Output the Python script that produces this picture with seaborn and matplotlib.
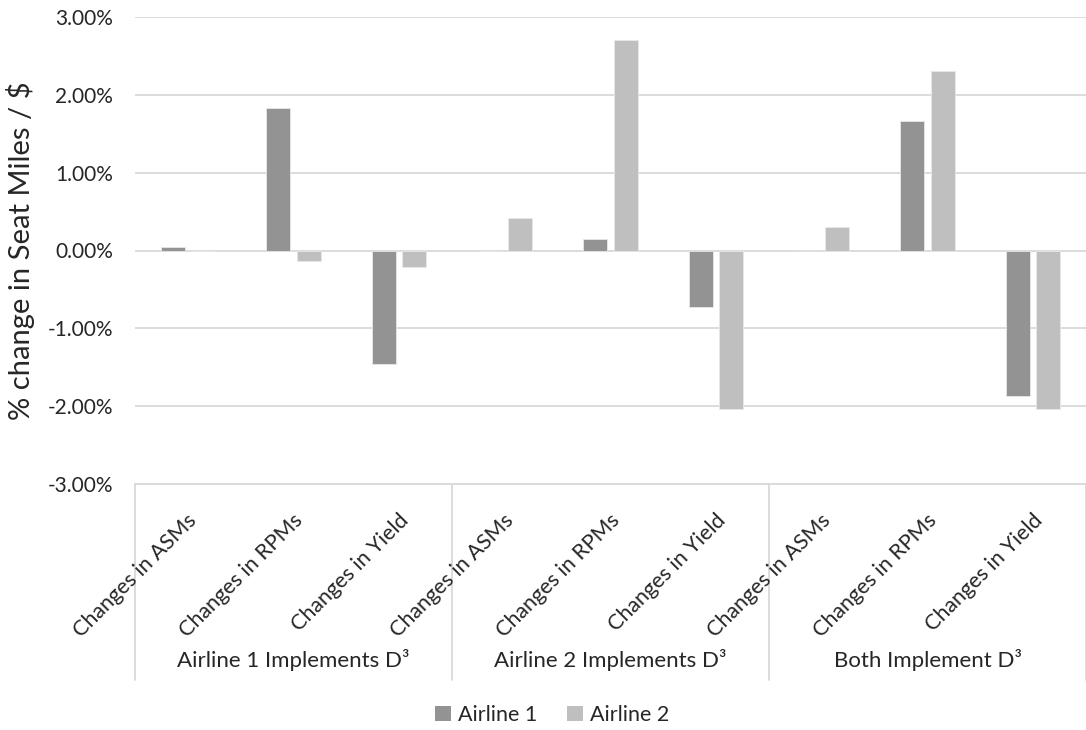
import numpy as np
import pandas as pd
import seaborn as sns
import matplotlib.pyplot as plt
from matplotlib.patches import Patch
from matplotlib.ticker import FuncFormatter, MultipleLocator
from matplotlib.transforms import blended_transform_factory

# Scenario groups and the metric within each group
groups = ["Airline 1 Implements D³", "Airline 2 Implements D³", "Both Implement D³"]
metrics = ["Changes in ASMs", "Changes in RPMs", "Changes in Yield"]

# Percentage change per scenario/metric (group-major order)
airline1 = [0.05, 1.83, -1.46, 0.00, 0.15, -0.72, 0.01, 1.67, -1.87]
airline2 = [0.00, -0.13, -0.21, 0.42, 2.70, -2.04, 0.30, 2.31, -2.04]

series = ["Airline 1", "Airline 2"]
colors = ["#939393", "#BFBFBF"]
grid_color = "#D9D9D9"
text_color = "#262626"

slots = [f"{g}|{m}" for g in groups for m in metrics]
df = pd.DataFrame({
    "slot": slots * 2,
    "series": [series[0]] * len(slots) + [series[1]] * len(slots),
    "value": airline1 + airline2,
})

sns.set_theme(style="white")
plt.rcParams["font.family"] = ["Lato", "DejaVu Sans"]
plt.rcParams["text.color"] = text_color

W, H = 1086, 730
fig = plt.figure(figsize=(W / 100, H / 100), dpi=100)
ax = fig.add_axes([135 / W, 246 / H, (W - 135) / W, 467 / H])

sns.barplot(data=df, x="slot", y="value", hue="series", order=slots,
            hue_order=series, palette=colors, saturation=1, errorbar=None,
            width=0.575, gap=0.21, edgecolor="#E8E8E8", linewidth=0.6,
            legend=False, ax=ax)

fs = 15.5
fs_ytick = 15
fs_group = 16
fs_title = 21
ax.set_ylim(-3, 3)
ax.set_xlim(-0.5, 8.5)
ax.yaxis.set_major_locator(MultipleLocator(1))
ax.yaxis.set_major_formatter(FuncFormatter(lambda v, _: f"{v:.2f}%" if abs(v) > 1e-9 else "0.00%"))
ax.tick_params(axis="y", length=0, pad=16, labelsize=fs_ytick, labelcolor=text_color)
ax.yaxis.grid(True, color=grid_color, linewidth=1.3)
ax.set_axisbelow(True)
for side in ["left", "right", "top"]:
    ax.spines[side].set_visible(False)
ax.spines["bottom"].set_color(grid_color)
ax.spines["bottom"].set_linewidth(1.3)

ax.set_xticks(range(len(slots)))
ax.set_xticklabels([])
ax.tick_params(axis="x", length=0)
ax.set_xlabel("")
ax.set_ylabel("% change in Seat Miles / $", fontsize=fs_title, color=text_color)
ax.yaxis.set_label_coords(-0.105, 0.5)

trans = blended_transform_factory(ax.transData, ax.transAxes)
ax_h = 467.0
cat_w = (W - 135) / 9.0

# Rotated metric labels under each bar pair
for i, slot in enumerate(slots):
    ax.text(i + 6 / cat_w, -33 / ax_h, slot.split("|")[1], transform=trans,
            rotation=45, rotation_mode="anchor", ha="right", va="center",
            fontsize=fs, color=text_color)

# Group separators and group titles
for x in [-0.5, 2.5, 5.5, 8.5]:
    ax.plot([x, x], [0, -196 / ax_h], transform=trans, color=grid_color,
            linewidth=1.3, clip_on=False)
for j, g in enumerate(groups):
    ax.text(3 * j + 1, -176 / ax_h, g, transform=trans, ha="center",
            va="center", fontsize=fs_group, color=text_color)

handles = [Patch(facecolor=c, edgecolor="none", label=s) for s, c in zip(series, colors)]
fig.legend(handles=handles, loc="center", bbox_to_anchor=(552 / W, 1 - 715 / H),
           ncol=2, frameon=False, fontsize=fs, handlelength=0.75, handleheight=0.75,
           handletextpad=0.3, columnspacing=1.4)

fig.savefig("out.png", dpi=100)
